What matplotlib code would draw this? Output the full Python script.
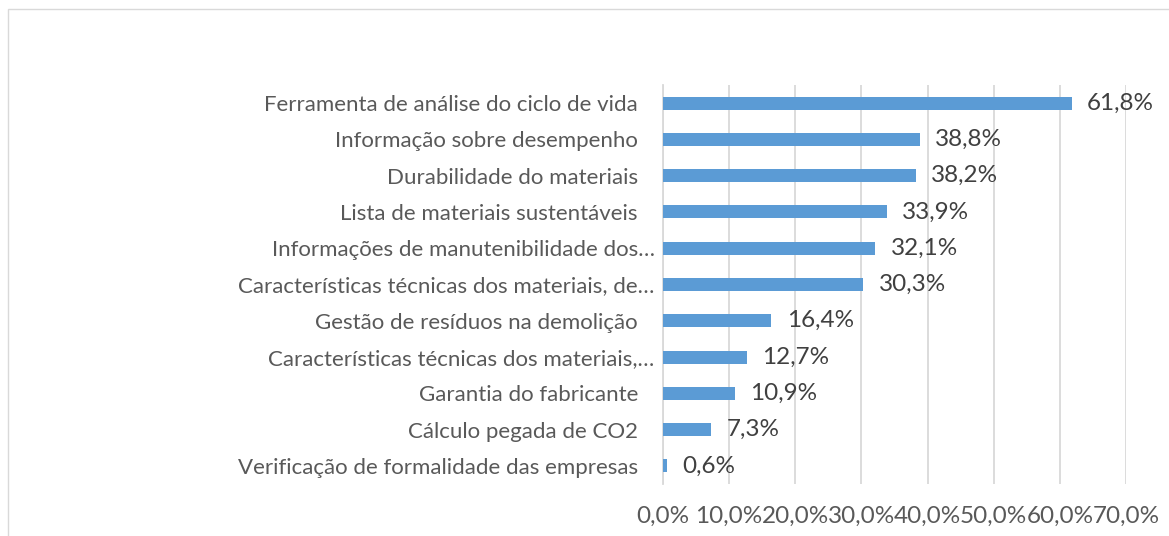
import matplotlib.pyplot as plt
from matplotlib.patches import Rectangle

categories = [
    "Ferramenta de análise do ciclo de vida",
    "Informação sobre desempenho",
    "Durabilidade do materiais",
    "Lista de materiais sustentáveis",
    "Informações de manutenibilidade dos…",
    "Características técnicas dos materiais, de…",
    "Gestão de resíduos na demolição",
    "Características técnicas dos materiais,…",
    "Garantia do fabricante",
    "Cálculo pegada de CO2",
    "Verificação de formalidade das empresas",
]
values = [61.8, 38.8, 38.2, 33.9, 32.1, 30.3, 16.4, 12.7, 10.9, 7.3, 0.6]
xticks = [0, 10, 20, 30, 40, 50, 60, 70]

plt.rcParams['font.family'] = ['Lato', 'DejaVu Sans']

fig = plt.figure(figsize=(11.69, 5.36), dpi=100)
# chart border (Excel style)
fig.patches.append(Rectangle((8 / 1169, -0.1), 1.2, (536 - 9) / 536 + 0.1,
                             transform=fig.transFigure, fill=False,
                             edgecolor='#D9D9D9', linewidth=1))

ax = fig.add_axes([663 / 1169, (536 - 484) / 536, (1126 - 663) / 1169, (484 - 85) / 536])
y = list(range(len(categories)))
ax.barh(y, values, height=0.36, color='#5B9BD5', zorder=3)
for yi, v in zip(y, values):
    ax.text(v + 2.3, yi, f"{v:.1f}%".replace('.', ','), va='center', ha='left',
            fontsize=17.5, color='#404040', zorder=4)

ax.set_xlim(0, 70)
ax.set_ylim(len(categories) - 0.5, -0.5)
ax.set_yticks(y)
ax.set_yticklabels(categories, fontsize=16, color='#595959')
ax.set_xticks(xticks)
ax.set_xticklabels([f"{t:.1f}%".replace('.', ',') for t in xticks], fontsize=17.5, color='#595959')
ax.tick_params(axis='both', length=0)
ax.tick_params(axis='x', pad=16)
# truncated labels sit closer to the axis (no trailing space)
for tick, lab in zip(ax.yaxis.get_major_ticks(), categories):
    tick.set_pad(6 if lab.endswith('…') else 18)
ax.grid(axis='x', color='#D9D9D9', linewidth=1.3, zorder=0)
for s in ['top', 'right', 'bottom']:
    ax.spines[s].set_visible(False)
ax.spines['left'].set_color('#D9D9D9')
ax.spines['left'].set_linewidth(1.3)

fig.savefig('out.png', dpi=100)
